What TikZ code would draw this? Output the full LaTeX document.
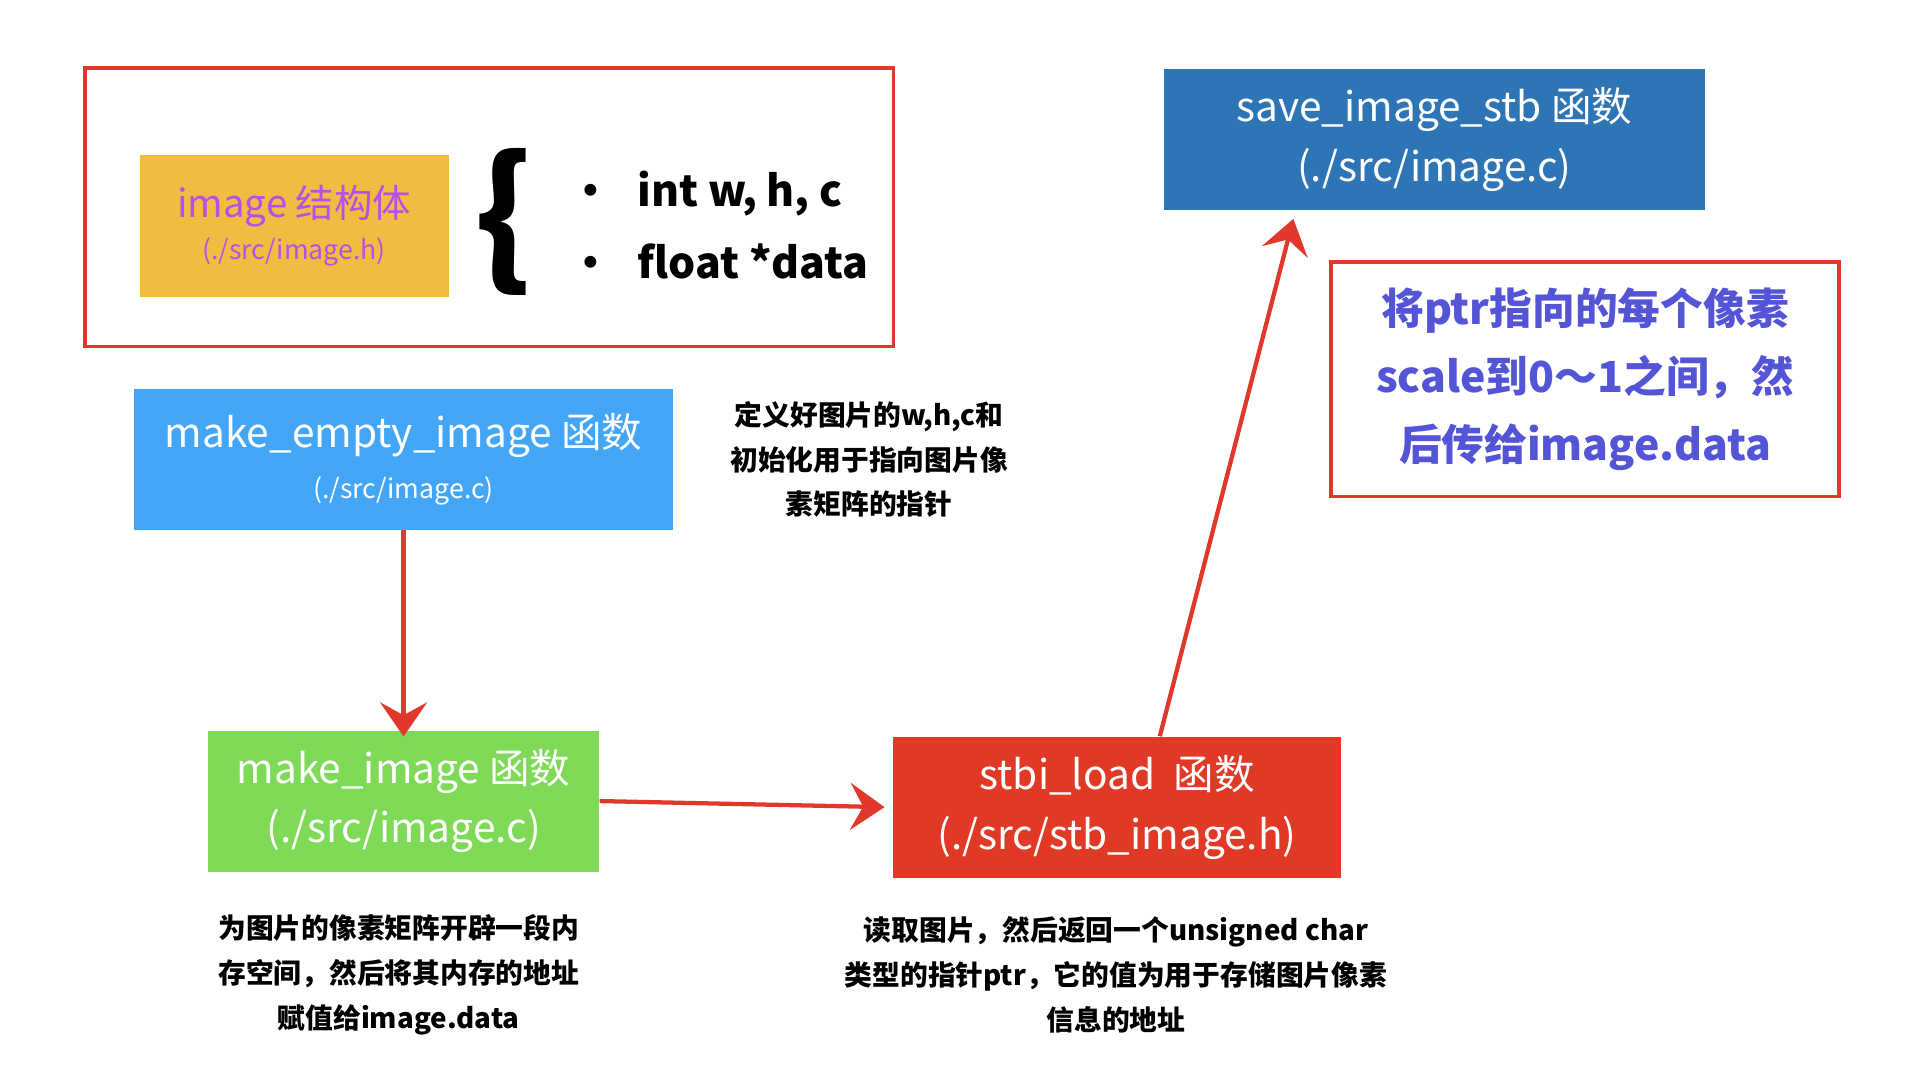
\documentclass[tikz,border=0pt]{standalone}
\usepackage{fontspec}
\setmainfont{Noto Sans CJK SC}
\usepackage{xcolor}
\definecolor{boxyellow}{HTML}{F0BC42}
\definecolor{boxblue}{HTML}{42A5F5}
\definecolor{boxgreen}{HTML}{7ED957}
\definecolor{boxred}{HTML}{E03A26}
\definecolor{boxnavy}{HTML}{2E75B6}
\definecolor{txtpurple}{HTML}{B94FE8}
\definecolor{txtblue}{HTML}{5454D6}
\definecolor{pen}{HTML}{E0392B}
\usetikzlibrary{positioning,arrows.meta}

\tikzset{
  func/.style={minimum width=#1, minimum height=2.32cm, inner sep=0pt, align=center, text=white,
    font=\fontsize{19}{28}\selectfont},
  note/.style={align=center, font=\bfseries\fontsize{13}{21}\selectfont},
  sketch/.style={draw=pen, line width=1.6pt},
  flow/.style={pen, line width=2pt, -{Stealth[length=16pt, width=22pt, inset=6pt]}}
}

\begin{document}
\begin{tikzpicture}[x=0.02cm, y=-0.02cm]
  \useasboundingbox (0,0) rectangle (1568,893);

  % struct
  \draw[sketch] (70,56) rectangle (735,285);
  \node[fill=boxyellow, minimum width=5.08cm, minimum height=2.34cm, align=center] (img) at (242,186)
    {\textcolor{txtpurple}{\fontsize{18}{26}\selectfont image 结构体}\\[4pt]
     \textcolor{txtpurple}{\fontsize{12.5}{18}\selectfont (./src/image.h)}};
  \node[font=\bfseries\fontsize{70}{70}\selectfont] (brace) at (415,183) {\{};
  \node[anchor=west, font=\bfseries\fontsize{20}{34}\selectfont, align=left] (fields) at (462,185)
    {•\hspace{0.6em}int w, h, c\\ •\hspace{0.6em}float *data};

  % functions
  \node[func=8.88cm, fill=boxblue] (empty) at (332,378)
    {make\_empty\_image 函数\\[-4pt]{\fontsize{12.5}{18}\selectfont (./src/image.c)}};
  \node[func=6.44cm, fill=boxgreen] (make) at (332,659)
    {make\_image 函数\\(./src/image.c)};
  \node[func=7.36cm, fill=boxred] (load) at (919,664)
    {stbi\_load\ \ 函数\\(./src/stb\_image.h)};
  \node[func=8.9cm, fill=boxnavy] (save) at (1180,115)
    {save\_image\_stb 函数\\(./src/image.c)};

  % notes
  \node[note] (n1) at (715,378) {定义好图片的w,h,c和\\初始化用于指向图片像\\素矩阵的指针};
  \node[note] (n2) at (328,802) {为图片的像素矩阵开辟一段内\\存空间，然后将其内存的地址\\赋值给image.data};
  \node[note] (n3) at (918,802) {读取图片，然后返回一个unsigned char\\类型的指针ptr，它的值为用于存储图片像素\\信息的地址};
  \node[sketch, minimum width=8.36cm, minimum height=3.86cm, align=center, text=txtblue,
    font=\bfseries\fontsize{20}{32}\selectfont] (n4) at (1304,312)
    {将ptr指向的每个像素\\scale到0～1之间，然\\后传给image.data};

  % arrows
  \coordinate (tip) at (1064,180);
  \draw[flow] (empty.south) -- ([yshift=-3pt]make.north);
  \draw[flow] (make.east) -- ([xshift=-4pt]load.west);
  \draw[flow] ([xshift=20pt]load.north) -- (tip);
\end{tikzpicture}
\end{document}
